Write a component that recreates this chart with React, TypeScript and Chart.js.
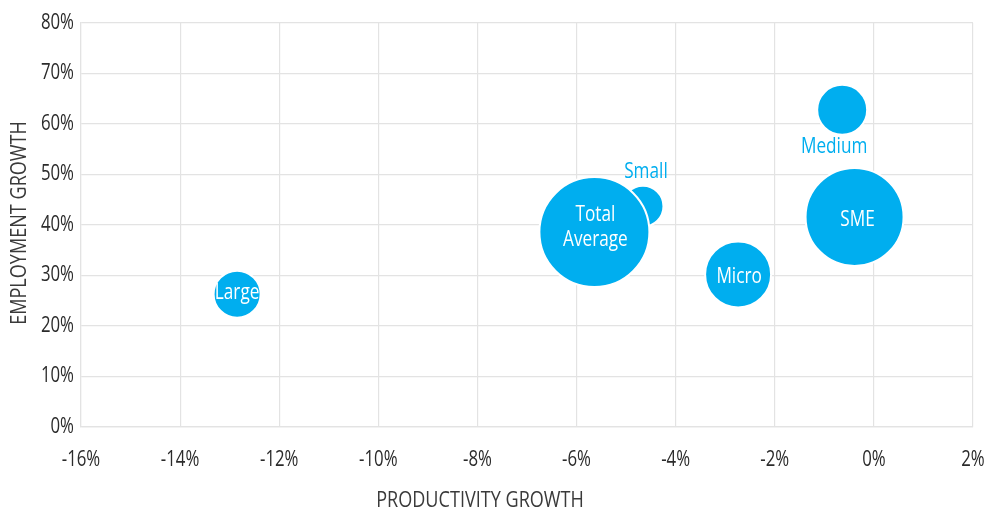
import React, { useEffect, useRef } from "react";
import { Chart, registerables } from "chart.js";
Chart.register(...registerables);

// ---- data ----
const categories = ["Large", "Small", "Total Average", "Micro", "Medium", "SME"];
const productivityGrowth = [-12.85, -4.66, -5.64, -2.74, -0.64, -0.39];
const employmentGrowth = [26.3, 43.7, 38.6, 30.2, 62.8, 41.6];
const bubbleSize = [23.5, 20.5, 55, 33, 25, 49];
const xTickValues = [-16, -14, -12, -10, -8, -6, -4, -2, 0, 2];
const yTickValues = [0, 10, 20, 30, 40, 50, 60, 70, 80];
const xTitle = "PRODUCTIVITY GROWTH";
const yTitle = "EMPLOYMENT GROWTH";

// ---- styling / label placement ----
const FONT = "'Open Sans', 'Noto Sans', sans-serif";
const SX = 0.8; // horizontal condensing of text
const BLUE = "#00AEEF";
const GRID = "#e3e3e3";
const TICK_COLOR = "#2b2b2b";
const labelInside = [true, false, true, true, false, true];
const labelOffsets: [number, number][] = [
  [0, -1],
  [3, -34],
  [1, -5],
  [1, 2],
  [-8, 37],
  [3, 3],
];

function drawText(ctx: any, text: string, x: number, y: number, align: string) {
  ctx.save();
  ctx.translate(x, y);
  ctx.scale(SX, 1);
  ctx.textAlign = align;
  ctx.fillText(text, 0, 0);
  ctx.restore();
}

const bubbleLabels = {
  id: "bubbleLabels",
  afterDatasetsDraw(chart: any) {
    const meta = chart.getDatasetMeta(0);
    const ctx = chart.ctx;
    ctx.save();
    ctx.font = `21.5px ${FONT}`;
    ctx.textBaseline = "middle";
    meta.data.forEach((el: any, i: number) => {
      const lines = categories[i].split(" ");
      const [dx, dy] = labelOffsets[i];
      ctx.fillStyle = labelInside[i] ? "#ffffff" : BLUE;
      lines.forEach((line: string, j: number) => {
        drawText(ctx, line, el.x + dx, el.y + dy + (j - (lines.length - 1) / 2) * 25, "center");
      });
    });
    ctx.restore();
  },
};

const axisText = {
  id: "axisText",
  afterDraw(chart: any) {
    const ctx = chart.ctx;
    const xs = chart.scales.x;
    const ys = chart.scales.y;
    ctx.save();
    ctx.textBaseline = "middle";
    ctx.fillStyle = TICK_COLOR;
    ctx.font = `21px ${FONT}`;
    xTickValues.forEach((v) => {
      drawText(ctx, `${v}%`, xs.getPixelForValue(v), chart.chartArea.bottom + 33, "center");
    });
    yTickValues.forEach((v) => {
      drawText(ctx, `${v}%`, chart.chartArea.left - 7, ys.getPixelForValue(v), "right");
    });
    ctx.fillStyle = "#3a3a3a";
    ctx.font = `22.6px ${FONT}`;
    drawText(ctx, xTitle, 480, 501, "center");
    ctx.translate(20, 223);
    ctx.rotate(-Math.PI / 2);
    drawText(ctx, yTitle, 0, 0, "center");
    ctx.restore();
  },
};

export default function App() {
  const ref = useRef<HTMLCanvasElement>(null);
  useEffect(() => {
    document.body.style.margin = "0";
    const chart = new Chart(ref.current!, {
      type: "bubble",
      data: {
        datasets: [
          {
            label: "Growth",
            data: categories.map((_, i) => ({
              x: productivityGrowth[i],
              y: employmentGrowth[i],
              r: bubbleSize[i],
            })),
            backgroundColor: BLUE,
            borderColor: "#ffffff",
            borderWidth: 2,
            hoverBorderWidth: 2,
            clip: false as any,
          },
        ],
      },
      options: {
        responsive: false,
        animation: false,
        layout: { autoPadding: false, padding: { top: 23, right: 20, left: 0, bottom: 0 } },
        plugins: { legend: { display: false }, tooltip: { enabled: false } },
        scales: {
          x: {
            type: "linear",
            min: xTickValues[0],
            max: xTickValues[xTickValues.length - 1],
            afterBuildTicks: (s: any) => {
              s.ticks = xTickValues.map((v) => ({ value: v }));
            },
            afterFit: (s: any) => {
              s.height = 86;
            },
            grid: { color: GRID, drawTicks: false, lineWidth: 1.2 },
            border: { color: GRID, width: 1.2 },
            ticks: { display: false },
          },
          y: {
            type: "linear",
            min: yTickValues[0],
            max: yTickValues[yTickValues.length - 1],
            afterBuildTicks: (s: any) => {
              s.ticks = yTickValues.map((v) => ({ value: v }));
            },
            afterFit: (s: any) => {
              s.width = 81;
            },
            grid: { color: GRID, drawTicks: false, lineWidth: 1.2 },
            border: { color: GRID, width: 1.2 },
            ticks: { display: false },
          },
        },
      },
      plugins: [bubbleLabels, axisText],
    });
    return () => chart.destroy();
  }, []);
  return (
    <div style={{ width: 993, height: 513 }}>
      <canvas ref={ref} width={993} height={513} />
    </div>
  );
}
